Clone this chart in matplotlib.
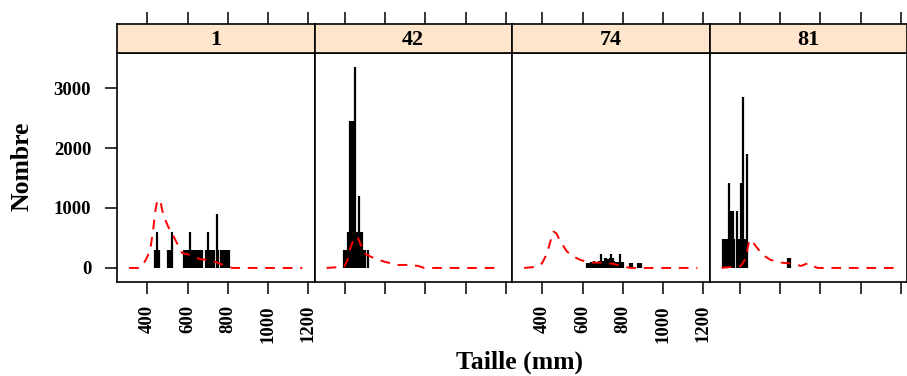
import numpy as np
import matplotlib.pyplot as plt

plt.rcParams['font.family'] = ['Liberation Serif', 'DejaVu Serif']
plt.rcParams['font.weight'] = 'bold'

# panneaux (stations)
panneaux = ['1', '42', '74', '81']

# effectifs observés : taille (mm) -> nombre
taille1 = [440, 450, 460, 505, 513, 521, 580, 590, 600, 611, 620, 630, 640, 650, 660, 670,
           690, 700, 710, 720, 730, 744, 752, 765, 775, 785, 795, 805]
nombre1 = [300, 600, 300, 300, 300, 600, 300, 300, 300, 600, 300, 300, 300, 300, 300, 300,
           300, 600, 300, 300, 300, 900, 300, 300, 300, 300, 300, 300]

taille2 = [398, 406, 414, 421, 427, 433, 439, 445, 451, 458, 464, 471, 478, 485, 492, 500, 513]
nombre2 = [300, 300, 600, 600, 2450, 2450, 2450, 2450, 3350, 600, 600, 1200, 600, 600, 300, 300, 300]

taille3 = [622, 630, 640, 648, 656, 664, 672, 680, 688, 694, 700, 710, 718, 726, 734, 742,
           750, 758, 766, 774, 785, 792, 800, 838, 845, 873, 880, 888]
nombre3 = [80, 80, 100, 100, 120, 100, 100, 120, 100, 240, 120, 160, 160, 150, 160, 240,
           160, 120, 100, 100, 240, 100, 100, 80, 80, 80, 80, 80]

taille4 = [315, 325, 335, 347, 355, 364, 372, 384, 395, 405, 411, 417, 425, 432, 438, 640, 648]
nombre4 = [475, 475, 475, 1420, 950, 950, 475, 950, 475, 1420, 1420, 2850, 475, 475, 1900, 160, 160]

# courbes de référence (tirets rouges)
cx1 = [310, 360, 374, 395, 415, 429, 440, 450, 465, 475, 490, 505, 523, 548, 573, 614, 664,
       714, 747, 788, 822, 1170]
cy1 = [0, 0, 30, 150, 300, 630, 950, 1130, 1120, 950, 800, 680, 580, 410, 250, 215, 145,
       130, 90, 35, 0, 0]
cx2 = [310, 397, 414, 430, 447, 463, 480, 496, 546, 596, 663, 713, 762, 795, 1170]
cy2 = [0, 20, 133, 356, 494, 522, 383, 244, 161, 105, 50, 50, 35, 0, 0]
cx3 = [310, 374, 399, 424, 440, 456, 470, 490, 523, 556, 589, 639, 689, 755, 805, 838, 1170]
cy3 = [0, 20, 78, 244, 439, 606, 578, 439, 272, 189, 133, 89, 89, 67, 22, 0, 0]
cx4 = [310, 405, 430, 447, 463, 488, 513, 554, 604, 638, 670, 704, 737, 762, 787, 1170]
cy4 = [0, 33, 161, 467, 439, 328, 217, 133, 89, 78, 67, 33, 78, 33, 0, 0]

tailles = [taille1, taille2, taille3, taille4]
nombres = [nombre1, nombre2, nombre3, nombre4]
courbes = [(cx1, cy1), (cx2, cy2), (cx3, cy3), (cx4, cy4)]

xticks = [400, 600, 800, 1000, 1200]
yticks = [0, 1000, 2000, 3000]

# limites façon lattice (7% de marge)
xmin, xmax = 310, 1170
ymax = 3350
xlim = (xmin - 0.07 * (xmax - xmin), xmax + 0.07 * (xmax - xmin))
ylim = (-0.07 * ymax, 1.07 * ymax)

W, H = 907, 376
fig = plt.figure(figsize=(W / 100, H / 100), dpi=100)

gauche = [117, 314.5, 512, 709.5]
larg = 197.5
bas, haut = 282, 53
strip_haut = 24

for i in range(4):
    ax = fig.add_axes([gauche[i] / W, (H - bas) / H, larg / W, (bas - haut) / H])
    ax.vlines(tailles[i], 0, nombres[i], color='black', linewidth=1.6)
    ax.plot(courbes[i][0], courbes[i][1], color='red', linewidth=1.4, linestyle=(0, (5, 4)))
    ax.set_xlim(xlim)
    ax.set_ylim(ylim)
    for s in ax.spines.values():
        s.set_linewidth(1.2)
    ax.set_xticks(xticks)
    ax.tick_params(axis='x', direction='out', length=8.6, width=1.1, pad=8, labelsize=13.5)
    if i in (0, 2):
        ax.set_xticklabels([str(t) for t in xticks], rotation=90, fontweight='bold')
    else:
        ax.set_xticklabels([])
    if i == 0:
        ax.set_yticks(yticks)
        ax.set_yticklabels([str(t) for t in yticks], fontweight='bold')
        ax.tick_params(axis='y', direction='out', length=8.6, width=1.1, pad=10, labelsize=13.5)
    else:
        ax.set_yticks([])

    # bandeau
    st = fig.add_axes([gauche[i] / W, (H - haut) / H, larg / W, (haut - strip_haut) / H])
    st.set_facecolor('#ffe5cc')
    st.set_xlim(xlim)
    st.set_ylim(0, 1)
    st.set_yticks([])
    st.set_xticks(xticks)
    st.xaxis.set_ticks_position('top')
    st.tick_params(axis='x', direction='out', length=8.6, width=1.1, labeltop=False)
    for s in st.spines.values():
        s.set_linewidth(1.2)
    st.text(0.5, 0.45, panneaux[i], transform=st.transAxes, ha='center', va='center',
            fontsize=16, fontweight='bold')

fig.text(520 / W, 1 - 362 / H, 'Taille (mm)', ha='center', va='center',
         fontsize=18.5, fontweight='bold')
fig.text(22 / W, 1 - 166 / H, 'Nombre', ha='center', va='center', rotation=90,
         fontsize=18.5, fontweight='bold')

fig.savefig('out.png', dpi=100)
